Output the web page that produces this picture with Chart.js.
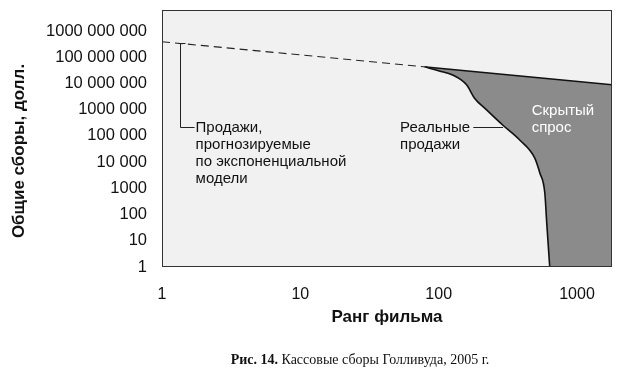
<!DOCTYPE html>
<html>
<head>
<meta charset="utf-8">
<script src="https://cdn.jsdelivr.net/npm/chart.js@4.4.0/dist/chart.umd.min.js"></script>
<style>
  html, body { margin: 0; padding: 0; background: #ffffff; }
  #wrap { position: relative; width: 620px; height: 376px; }
  #c { position: absolute; left: 0; top: 0; }
  #caption {
    position: absolute; left: 0; width: 620px; top: 352px; text-align: center;
    font-family: "Liberation Serif", "DejaVu Serif", serif; font-size: 14px; color: #111;
    padding-left: 100px; box-sizing: border-box;
  }
  #caption b { font-weight: bold; }
</style>
</head>
<body>
<div id="wrap">
  <canvas id="c" width="620" height="376"></canvas>
  <div id="caption"><b>Рис. 14.</b> Кассовые сборы Голливуда, 2005 г.</div>
</div>
<script>
// ---- data ----
const modelRank  = [1, 81, 1790];                 // power-law (exponential model) line
const modelGross = [3.9e8, 4.25e7, 8.9e6];
const realRank   = [79, 101, 126, 159, 181, 222, 290, 385, 494, 538, 585, 604, 635];
const realGross  = [4.3e7, 3.0e7, 2.1e7, 8.9e6, 2.8e6, 9.8e5, 2.6e5, 7e4, 1.45e4, 3900, 665, 48, 1];
const xTickValues = [1, 10, 100, 1000];
const xTickLabels = ['1', '10', '100', '1000'];
const yTickValues = [1, 10, 100, 1000, 1e4, 1e5, 1e6, 1e7, 1e8, 1e9];
const yTickLabels = ['1', '10', '100', '1000', '10 000', '100 000', '1000 000', '10 000 000', '100 000 000', '1000 000 000'];
const xTitle = 'Ранг фильма';
const yTitle = 'Общие сборы, долл.';
const labelModel = ['Продажи,', 'прогнозируемые', 'по экспоненциальной', 'модели'];
const labelReal = ['Реальные', 'продажи'];
const labelHidden = ['Скрытый', 'спрос'];

const PLOT_BG = '#f1f1f1';
const GAP_FILL = '#8b8b8b';
const SANS = '"Liberation Sans", Arial, Helvetica, sans-serif';

const pts = (xs, ys) => xs.map((x, i) => ({ x: x, y: ys[i] }));

const bgPlugin = {
  id: 'plotBg',
  beforeDraw(chart) {
    const a = chart.chartArea, ctx = chart.ctx;
    ctx.save();
    ctx.fillStyle = PLOT_BG;
    ctx.fillRect(a.left, a.top, a.right - a.left, a.bottom - a.top);
    ctx.restore();
  },
  afterDatasetsDraw(chart) {
    const a = chart.chartArea, ctx = chart.ctx;
    const xs = chart.scales.x, ys = chart.scales.y;
    ctx.save();
    // frame
    ctx.strokeStyle = '#333';
    ctx.lineWidth = 1;
    ctx.strokeRect(a.left + 0.5, a.top + 0.5, a.right - a.left - 1, a.bottom - a.top - 1);

    // y-axis title
    ctx.save();
    ctx.fillStyle = '#111';
    ctx.font = 'bold 17px ' + SANS;
    ctx.textAlign = 'center';
    ctx.textBaseline = 'middle';
    ctx.translate(19, a.bottom - 116);
    ctx.rotate(-Math.PI / 2);
    ctx.fillText(yTitle, 0, 0);
    ctx.restore();

    // bracket for the model line
    const slope = Math.log(modelGross[1] / modelGross[0]) / Math.log(modelRank[1]);
    const bx = Math.round(xs.getPixelForValue(1.35)) + 0.5;
    const byTop = Math.round(ys.getPixelForValue(modelGross[0] * Math.pow(1.35, slope))) + 0.5;
    const byBot = Math.round(ys.getPixelForValue(2.2e5)) + 0.5;
    const bxEnd = xs.getPixelForValue(1.72);
    ctx.strokeStyle = '#222';
    ctx.lineWidth = 1;
    ctx.beginPath();
    ctx.moveTo(bx, byTop);
    ctx.lineTo(bx, byBot);
    ctx.lineTo(bxEnd, byBot);
    ctx.moveTo(bx - 2, byTop);
    ctx.lineTo(bx + 5, byTop);
    ctx.stroke();

    ctx.font = '15px ' + SANS;
    ctx.textBaseline = 'middle';
    ctx.fillStyle = '#111';
    ctx.textAlign = 'left';
    const tx = bxEnd + 1;
    labelModel.forEach((t, i) => ctx.fillText(t, tx, byBot + i * 17));

    // real sales label
    const rx = xs.getPixelForValue(52.6);
    const ry = Math.round(ys.getPixelForValue(2.2e5)) + 0.5;
    labelReal.forEach((t, i) => ctx.fillText(t, rx, ry + i * 17));
    ctx.beginPath();
    ctx.moveTo(xs.getPixelForValue(178), ry);
    ctx.lineTo(xs.getPixelForValue(292), ry);
    ctx.stroke();

    // hidden demand label
    ctx.fillStyle = '#ffffff';
    const hx = xs.getPixelForValue(470);
    const hy = ys.getPixelForValue(9e5);
    labelHidden.forEach((t, i) => ctx.fillText(t, hx, hy + i * 17));
    ctx.restore();
  }
};

new Chart(document.getElementById('c'), {
  type: 'line',
  data: {
    datasets: [
      {
        label: 'Реальные продажи',
        data: pts(realRank, realGross),
        borderColor: '#111',
        borderWidth: 1.6,
        pointRadius: 0,
        cubicInterpolationMode: 'monotone',
        fill: 'start',
        backgroundColor: PLOT_BG
      },
      {
        label: 'Модель',
        data: pts(modelRank.slice(1), modelGross.slice(1)),
        borderColor: '#111',
        borderWidth: 1.4,
        pointRadius: 0,
        fill: 'start',
        backgroundColor: GAP_FILL
      },
      {
        label: 'Модель (прогноз)',
        data: pts(modelRank.slice(0, 2), modelGross.slice(0, 2)),
        borderColor: '#222',
        borderWidth: 1.1,
        borderDash: [8, 5],
        pointRadius: 0,
        fill: false
      }
    ]
  },
  options: {
    responsive: false,
    animation: false,
    devicePixelRatio: 1,
    layout: { padding: { left: 0, right: 8, top: 10, bottom: 46 } },
    plugins: { legend: { display: false }, tooltip: { enabled: false } },
    scales: {
      x: {
        type: 'logarithmic',
        min: 1, max: 1790,
        grid: { display: false, drawTicks: false },
        border: { display: false },
        afterBuildTicks: s => { s.ticks = xTickValues.map(v => ({ value: v })); },
        afterFit: s => { s.height = 63; s.paddingLeft = 0; s.paddingRight = 0; },
        ticks: {
          autoSkip: false, maxRotation: 0, padding: 18, color: '#111',
          font: { family: SANS, size: 16 },
          callback: v => xTickLabels[xTickValues.indexOf(v)]
        },
        title: {
          display: true, text: xTitle, color: '#111',
          font: { family: SANS, size: 17, weight: 'bold' },
          padding: { top: 0, bottom: 2 }
        }
      },
      y: {
        type: 'logarithmic',
        min: 1, max: 6.3e9,
        grid: { display: false, drawTicks: false },
        border: { display: false },
        afterBuildTicks: s => { s.ticks = yTickValues.map(v => ({ value: v })); },
        afterFit: s => { s.width = 162; s.paddingTop = 0; s.paddingBottom = 0; },
        ticks: {
          autoSkip: false, padding: 15, color: '#111',
          font: { family: SANS, size: 16.5 },
          callback: v => yTickLabels[yTickValues.indexOf(v)]
        },
        title: { display: false }
      }
    }
  },
  plugins: [bgPlugin]
});
</script>
</body>
</html>
